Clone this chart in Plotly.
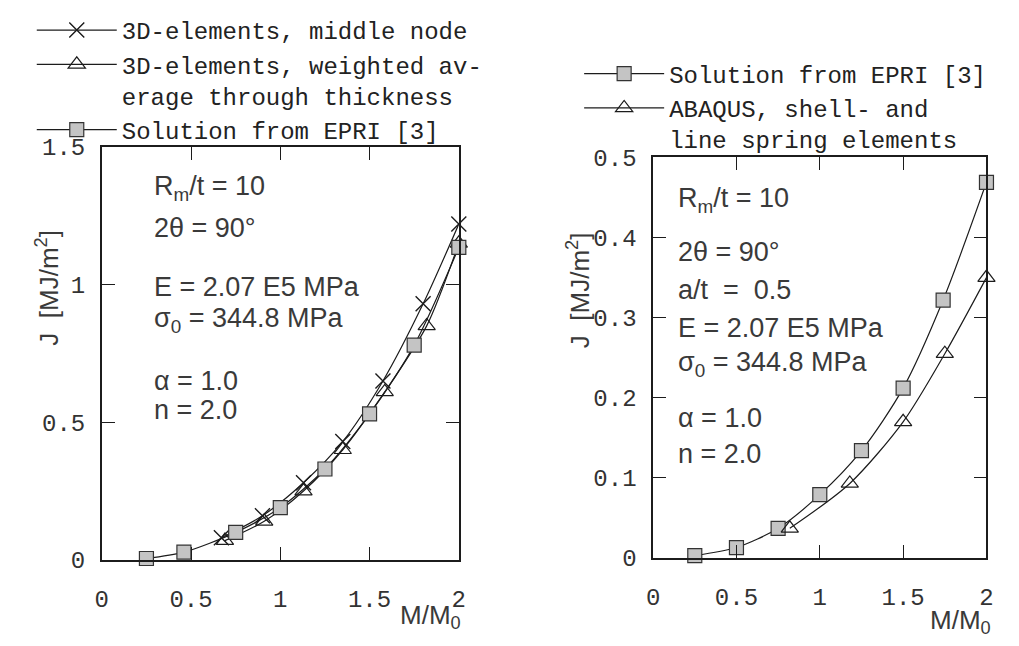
import plotly.graph_objects as go

# ---------------- data ----------------
# Left panel: R_m/t = 10, 2theta = 90 deg
left_x_mid = [0.67, 0.90, 1.13, 1.35, 1.575, 1.80, 2.0]
left_y_mid = [0.08, 0.16, 0.28, 0.43, 0.65, 0.93, 1.22]

left_x_avg = [0.69, 0.91, 1.13, 1.35, 1.585, 1.82, 2.0]
left_y_avg = [0.07, 0.14, 0.25, 0.40, 0.61, 0.85, 1.15]

left_x_epri = [0.25, 0.46, 0.75, 1.0, 1.25, 1.5, 1.75, 2.0]
left_y_epri = [0.005, 0.028, 0.10, 0.19, 0.33, 0.53, 0.78, 1.135]

# Right panel: a/t = 0.5
right_x_epri = [0.25, 0.5, 0.75, 1.0, 1.25, 1.5, 1.74, 2.0]
right_y_epri = [0.003, 0.013, 0.037, 0.079, 0.134, 0.212, 0.322, 0.469]

right_x_abaqus = [0.82, 1.18, 1.5, 1.75, 2.0]
right_y_abaqus = [0.037, 0.093, 0.170, 0.255, 0.350]

x_ticks = [0, 0.5, 1, 1.5, 2]
x_ticktext = ["0", "0.5", "1", "1.5", "2"]
left_y_ticks = [0, 0.5, 1, 1.5]
left_y_ticktext = ["0", "0.5", "1", "1.5"]
right_y_ticks = [0, 0.1, 0.2, 0.3, 0.4, 0.5]
right_y_ticktext = ["0", "0.1", "0.2", "0.3", "0.4", "0.5"]

name_mid = "3D-elements, middle node"
name_avg = "3D-elements, weighted av-<br>erage through thickness"
name_epri = "Solution from EPRI [3]"
name_abaqus = "ABAQUS, shell- and<br>line spring elements"

left_notes = ["R<sub>m</sub>/t = 10", "2θ = 90°", "E = 2.07 E5 MPa",
              "σ<sub>0</sub> = 344.8 MPa", "α = 1.0", "n = 2.0"]
left_note_y = [1.35, 1.205, 0.99, 0.87, 0.651, 0.544]
right_notes = ["R<sub>m</sub>/t = 10", "2θ = 90°", "a/t  =  0.5", "E = 2.07 E5 MPa",
               "σ<sub>0</sub> = 344.8 MPa", "α = 1.0", "n = 2.0"]
right_note_y = [0.447, 0.382, 0.3345, 0.287, 0.242, 0.175, 0.130]

# ---------------- styling ----------------
W, H = 1019, 646
INK = "#1c1c1c"
MONO = "Liberation Mono, Courier New, monospace"
SANS = "Liberation Sans, Arial, sans-serif"
LINE = dict(color=INK, width=1.2, shape="spline", smoothing=0.8)
SQ = dict(symbol="square", size=14, color="#c4c4c4", line=dict(color="#333", width=1.2))
TRI = dict(symbol="triangle-up-open", size=15, color=INK, line=dict(color=INK, width=1.2))
XM = dict(symbol="x-thin-open", size=15, color=INK, line=dict(color=INK, width=1.4))

fig = go.Figure()

fig.add_trace(go.Scatter(x=left_x_mid, y=left_y_mid, mode="lines+markers", name=name_mid,
                         line=LINE, marker=XM, xaxis="x", yaxis="y", legend="legend",
                         cliponaxis=False))
fig.add_trace(go.Scatter(x=left_x_avg, y=left_y_avg, mode="lines+markers", name=name_avg,
                         line=LINE, marker=TRI, xaxis="x", yaxis="y", legend="legend",
                         cliponaxis=False))
fig.add_trace(go.Scatter(x=left_x_epri, y=left_y_epri, mode="lines+markers", name=name_epri,
                         line=LINE, marker=SQ, xaxis="x", yaxis="y", legend="legend",
                         cliponaxis=False))

fig.add_trace(go.Scatter(x=right_x_epri, y=right_y_epri, mode="lines+markers", name=name_epri,
                         line=LINE, marker=SQ, xaxis="x2", yaxis="y2", legend="legend2",
                         cliponaxis=False))
fig.add_trace(go.Scatter(x=right_x_abaqus, y=right_y_abaqus, mode="lines+markers", name=name_abaqus,
                         line=LINE, marker=TRI, xaxis="x2", yaxis="y2", legend="legend2",
                         cliponaxis=False))

def px_x(p):
    return p / W

def px_y(p):
    return 1 - p / H

axis_common = dict(showline=True, mirror="ticks", linecolor=INK, linewidth=1.5,
                   ticks="inside", ticklen=13, tickwidth=1.2, tickcolor=INK,
                   showgrid=False, zeroline=False, fixedrange=True,
                   tickfont=dict(family=MONO, size=24, color="#333"))

legend_common = dict(xanchor="left", yanchor="top",
                     font=dict(family=MONO, size=24, color="#222"),
                     bgcolor="rgba(0,0,0,0)", itemwidth=80, valign="top",
                     tracegroupgap=0, traceorder="normal")

fig.update_layout(
    width=W, height=H, autosize=False,
    margin=dict(l=0, r=0, t=0, b=0),
    paper_bgcolor="white", plot_bgcolor="white",
    xaxis=dict(domain=[px_x(88), px_x(450)], range=[0, 2], anchor="y",
               tickvals=x_ticks, ticktext=x_ticktext, ticklabelstandoff=17, **axis_common),
    yaxis=dict(domain=[px_y(563), px_y(130)], range=[0, 1.5], anchor="x",
               tickvals=left_y_ticks, ticktext=left_y_ticktext, ticklabelstandoff=10, **axis_common),
    xaxis2=dict(domain=[px_x(647), px_x(985)], range=[0, 2], anchor="y2",
                tickvals=x_ticks, ticktext=x_ticktext, ticklabelstandoff=17, **axis_common),
    yaxis2=dict(domain=[px_y(561), px_y(141)], range=[0, 0.5], anchor="x2",
                tickvals=right_y_ticks, ticktext=right_y_ticktext, ticklabelstandoff=10, **axis_common),
    legend=dict(x=px_x(17), y=px_y(-16), **legend_common),
    legend2=dict(x=px_x(572), y=px_y(30), **legend_common),
    showlegend=True,
)

ann = []
for t, yv in zip(left_notes, left_note_y):
    ann.append(dict(x=0.28, y=yv, xref="x", yref="y", text=t, showarrow=False,
                    xanchor="left", yanchor="middle",
                    font=dict(family=SANS, size=27, color="#3a3a3a")))
for t, yv in zip(right_notes, right_note_y):
    ann.append(dict(x=0.136, y=yv, xref="x2", yref="y2", text=t, showarrow=False,
                    xanchor="left", yanchor="middle",
                    font=dict(family=SANS, size=27, color="#3a3a3a")))

# axis titles
ann.append(dict(x=px_x(33), y=px_y(278), xref="paper", yref="paper", text="J  [MJ/m<sup>2</sup>]",
                textangle=-90, showarrow=False, xanchor="center", yanchor="middle",
                font=dict(family=SANS, size=26, color="#3a3a3a")))
ann.append(dict(x=px_x(572), y=px_y(280), xref="paper", yref="paper", text="J  [MJ/m<sup>2</sup>]",
                textangle=-90, showarrow=False, xanchor="center", yanchor="middle",
                font=dict(family=SANS, size=26, color="#3a3a3a")))
ann.append(dict(x=px_x(454), y=px_y(622), xref="paper", yref="paper", text="M/M<sub>0</sub>",
                showarrow=False, xanchor="right", yanchor="middle",
                font=dict(family=SANS, size=26, color="#3a3a3a")))
ann.append(dict(x=px_x(992), y=px_y(628), xref="paper", yref="paper", text="M/M<sub>0</sub>",
                showarrow=False, xanchor="right", yanchor="middle",
                font=dict(family=SANS, size=26, color="#3a3a3a")))

fig.update_layout(annotations=ann)

fig.write_html("out.html")
